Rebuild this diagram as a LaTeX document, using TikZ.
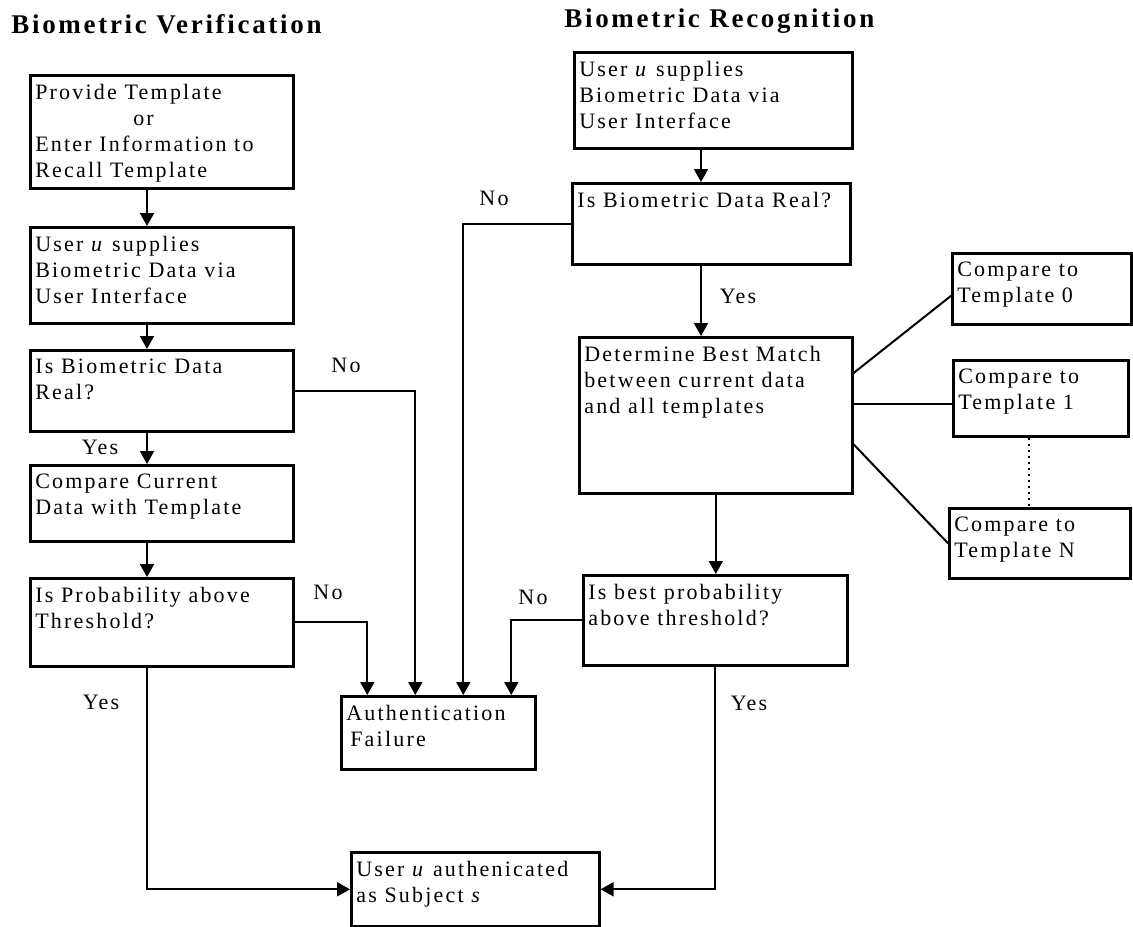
\documentclass[tikz,border=0pt]{standalone}
\usepackage{fontspec}
\setmainfont[LetterSpace=10]{Liberation Serif}
\usetikzlibrary{arrows.meta,positioning}
\newcommand{\boxtext}[3]{\parbox[t][#2][t]{#1}{\raggedright\vspace*{4.5pt}#3}}
\tikzset{
  box/.style={draw,line width=1.3pt,anchor=north west,inner xsep=2.5pt,inner ysep=0pt,
              font=\fontsize{11}{13}\selectfont},
  head/.style={anchor=base west,inner sep=0pt,font=\fontsize{13.5}{16}\selectfont\bfseries},
  lbl/.style={inner sep=0pt,font=\fontsize{11}{13}\selectfont},
  arr/.style={-{Triangle[length=6.5pt,width=7pt]},line width=1pt},
  link/.style={line width=1pt},
}
\begin{document}
\begin{tikzpicture}[x=0.5pt,y=-0.5pt]
  \path[use as bounding box] (0,0) rectangle (1133,926);
  \node[head] (hv) at (11,33) {Biometric Verification};
  \node[head] (hr) at (564,27) {Biometric Recognition};
  % verification
  \node[box] (v1) at (29,74) {\boxtext{126.5pt}{56.5pt}{Provide Template\\\hspace*{49pt}or\\Enter Information to\\Recall Template}};
  \node[box] (v2) at (29,226) {\boxtext{126.5pt}{48pt}{User \textit{u} supplies\\Biometric Data via\\User Interface}};
  \node[box] (v3) at (29,349) {\boxtext{126.5pt}{40.5pt}{Is Biometric Data\\Real?}};
  \node[box] (v4) at (29,464) {\boxtext{126.5pt}{38pt}{Compare Current\\Data with Template}};
  \node[box] (v5) at (29,577) {\boxtext{126.5pt}{44pt}{Is Probability above\\Threshold?}};
  % recognition
  \node[box] (r1) at (573,51) {\boxtext{134pt}{48pt}{User \textit{u} supplies\\Biometric Data via\\User Interface}};
  \node[box] (r2) at (571,182) {\boxtext{134pt}{40.5pt}{Is Biometric Data Real?}};
  \node[box] (r3) at (578,336) {\boxtext{131.5pt}{78pt}{Determine Best Match\\between current data\\and all templates}};
  \node[box] (r4) at (582,574) {\boxtext{127pt}{45pt}{Is best probability\\above threshold?}};
  \node[box] (t0) at (951,252) {\boxtext{84.5pt}{35.5pt}{Compare to\\Template 0}};
  \node[box] (t1) at (952,359) {\boxtext{82.5pt}{38pt}{Compare to\\Template 1}};
  \node[box] (tn) at (948,507) {\boxtext{85.5pt}{35pt}{Compare to\\Template N}};
  % results
  \node[box] (fail) at (340,695) {\boxtext{92pt}{36.5pt}{Authentication\\\hspace*{2pt}Failure}};
  \node[box] (ok) at (350,851) {\boxtext{119pt}{37pt}{User \textit{u} authenicated\\as Subject \textit{s}}};
  \coordinate (lx) at (147,0);
  \coordinate (rx) at (701,0);
  \draw[arr] (v1.south -| lx) -- (v2.north -| lx);
  \draw[arr] (v2.south -| lx) -- (v3.north -| lx);
  \draw[arr] (v3.south -| lx) -- (v4.north -| lx);
  \draw[arr] (v4.south -| lx) -- (v5.north -| lx);
  \draw[arr] (v5.south -| lx) |- (ok.west);
  \draw[arr] (v3.east) -| ([xshift=-11.5pt]fail.north);
  \draw[arr] (v5.east) -| ([xshift=-35.5pt]fail.north);
  \draw[arr] (r1.south -| rx) -- (r2.north -| rx);
  \draw[arr] (r2.south -| rx) -- (r3.north -| rx);
  \draw[arr] (r2.west) -| ([xshift=12.5pt]fail.north);
  \draw[arr] (r3.south) -- (r3.south |- r4.north);
  \draw[arr] (r4.west) -| ([xshift=36.5pt]fail.north);
  \draw[arr] (r4.south) |- (ok.east);
  \draw[link] ([yshift=-18.5pt]r3.north east) -- ([yshift=-3.5pt]t0.west);
  \draw[link] ([yshift=5.5pt]r3.east) -- ([yshift=5.5pt]r3.east -| t1.west);
  \draw[link] ([yshift=-14.5pt]r3.east) -- (tn.west);
  \draw[link,dotted] ([xshift=-6pt]t1.south) -- ([xshift=-6pt]t1.south |- tn.north);
  % labels
  \node[lbl] (y1) at (100,447) {Yes};
  \node[lbl] (y2) at (101,702) {Yes};
  \node[lbl] (n1) at (346,365) {No};
  \node[lbl] (n2) at (328,592) {No};
  \node[lbl] (n3) at (494,198) {No};
  \node[lbl] (n4) at (533,597) {No};
  \node[lbl] (y3) at (738,296) {Yes};
  \node[lbl] (y4) at (749,703) {Yes};
\end{tikzpicture}
\end{document}
